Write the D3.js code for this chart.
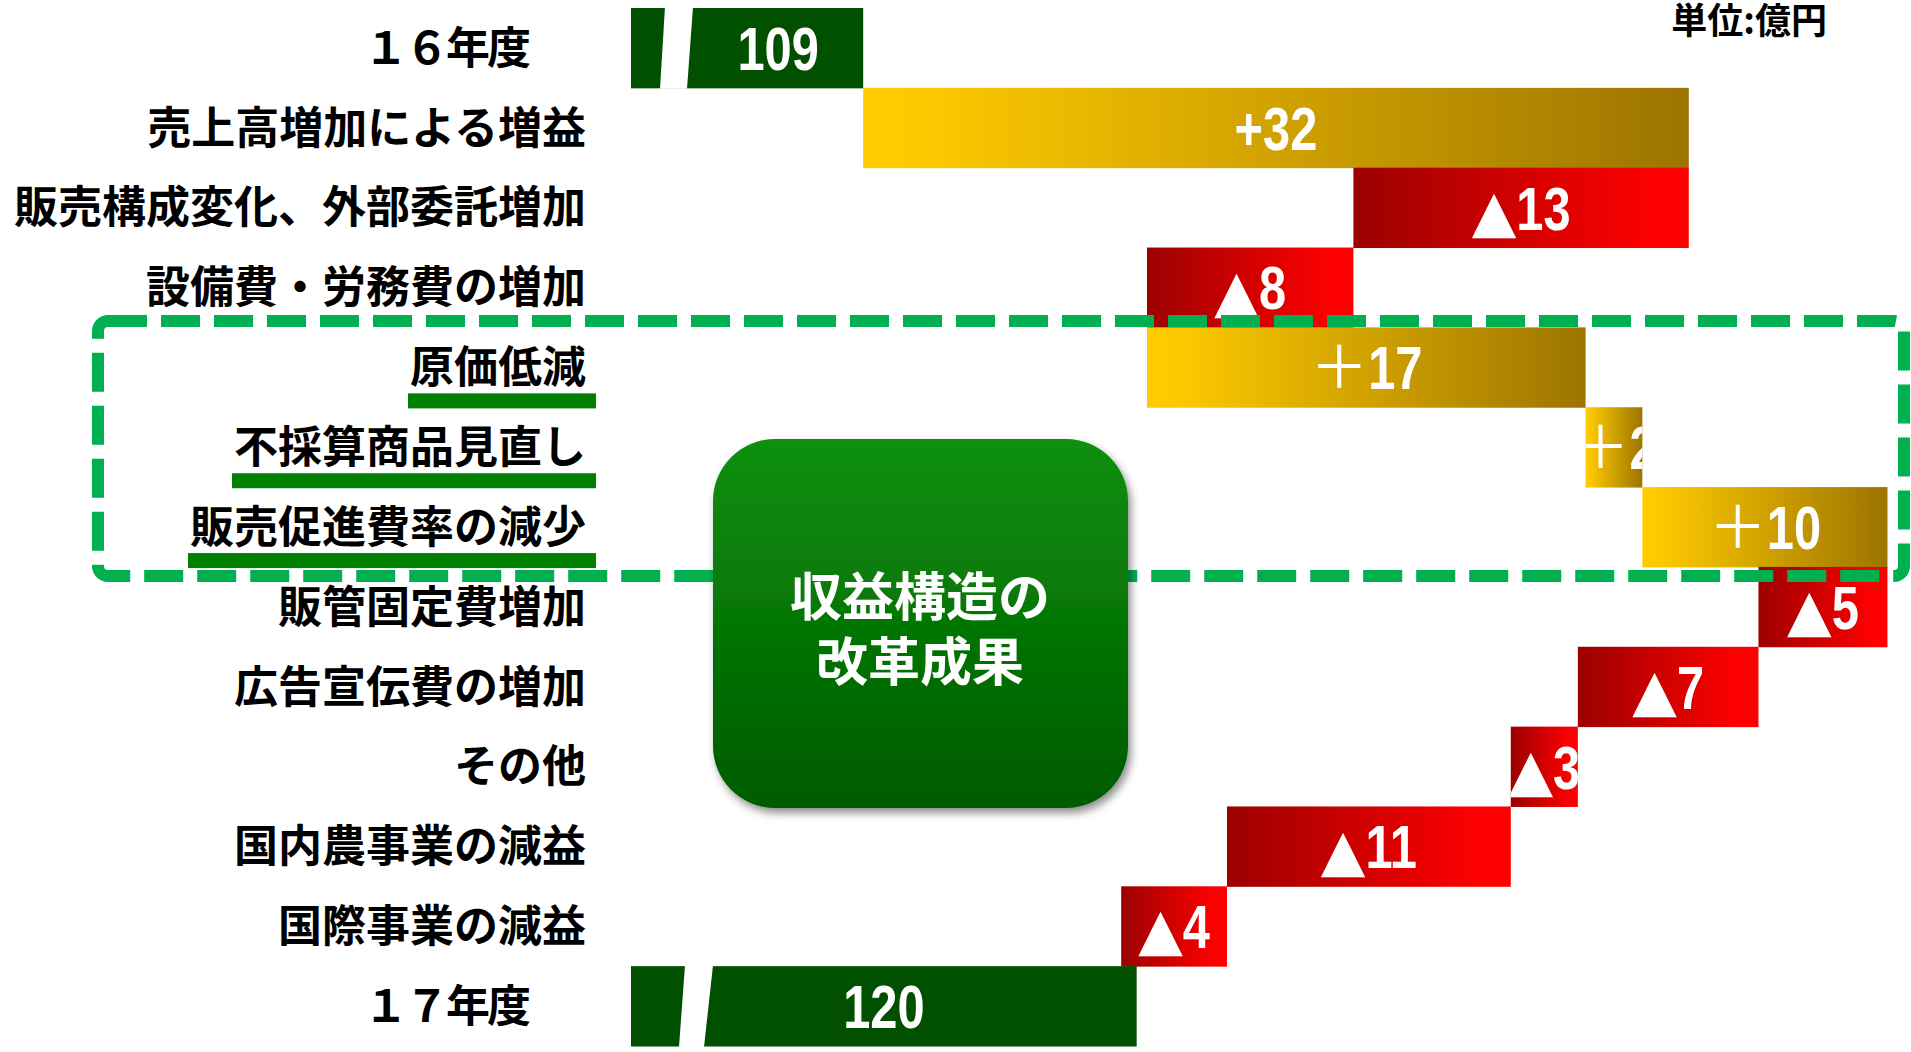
<!DOCTYPE html>
<html><head><meta charset="utf-8">
<script src="https://cdn.jsdelivr.net/npm/d3@7"></script>
<style>body{margin:0;background:#fff;} svg{display:block}</style>
</head><body><svg id="chart" width="1911" height="1052"></svg>
<script>
// ---- data ----
const categories = ["１６年度","売上高増加による増益","販売構成変化、外部委託増加","設備費・労務費の増加","原価低減","不採算商品見直し","販売促進費率の減少","販管固定費増加","広告宣伝費の増加","その他","国内農事業の減益","国際事業の減益","１７年度"];
const startTotal = 109;
const endTotal = 119.6;
const deltas = [32, -13, -8, 17, 2.2, 9.5, -5, -7, -2.6, -11, -4.1];
const valueLabels = ["109","+32","▲13","▲8","＋17","＋2","＋10","▲5","▲7","▲3","▲11","▲4","120"];
const highlighted = ["原価低減","不採算商品見直し","販売促進費率の減少"];
const boxTitle = ["収益構造の","改革成果"];
const unitLabel = "単位:億円";
const axisBase = 100;
const axisMax = 150;

// ---- build rows ----
const rows = [];
rows.push({cat: categories[0], type: "total", from: axisBase, to: startTotal, label: valueLabels[0]});
let cum = startTotal;
deltas.forEach((d, i) => {
  const from = cum, to = cum + d;
  rows.push({cat: categories[i + 1], type: d >= 0 ? "up" : "down", from: Math.min(from, to), to: Math.max(from, to), label: valueLabels[i + 1]});
  cum = to;
});
rows.push({cat: categories[categories.length - 1], type: "total", from: axisBase, to: endTotal, label: valueLabels[valueLabels.length - 1]});

const svg = d3.select("#chart");
const x = d3.scaleLinear().domain([axisBase, axisMax]).range([631, 1921]);
const y = d3.scaleBand().domain(categories).range([8, 1046]).padding(0);
const bw = y.bandwidth();

const defs = svg.append("defs");
const gUp = defs.append("linearGradient").attr("id", "gUp");
gUp.append("stop").attr("offset", 0).attr("stop-color", "#FFCC00");
gUp.append("stop").attr("offset", 0.08).attr("stop-color", "#FCC800");
gUp.append("stop").attr("offset", 1).attr("stop-color", "#9C7400");
const gDown = defs.append("linearGradient").attr("id", "gDown");
gDown.append("stop").attr("offset", 0).attr("stop-color", "#9C0000");
gDown.append("stop").attr("offset", 0.9).attr("stop-color", "#FF0000");
gDown.append("stop").attr("offset", 1).attr("stop-color", "#FF0000");
const gBox = defs.append("linearGradient").attr("id", "gBox").attr("x1", 0).attr("y1", 0).attr("x2", 0).attr("y2", 1);
gBox.append("stop").attr("offset", 0).attr("stop-color", "#0C900C");
gBox.append("stop").attr("offset", 1).attr("stop-color", "#005A00");
const sh = defs.append("filter").attr("id", "shadow").attr("x", "-10%").attr("y", "-10%").attr("width", "130%").attr("height", "130%");
sh.append("feDropShadow").attr("dx", 3).attr("dy", 5).attr("stdDeviation", 4).attr("flood-color", "#000").attr("flood-opacity", 0.45);

rows.forEach((r, i) => {
  defs.append("clipPath").attr("id", "clip" + i)
    .append("rect").attr("x", x(r.from)).attr("y", y(r.cat)).attr("width", x(r.to) - x(r.from)).attr("height", bw);
});

// ---- bars ----
const fill = t => t === "total" ? "#005000" : t === "up" ? "url(#gUp)" : "url(#gDown)";
svg.append("g").selectAll("rect").data(rows).join("rect")
  .attr("x", d => x(d.from)).attr("y", d => y(d.cat))
  .attr("width", d => x(d.to) - x(d.from)).attr("height", bw + 0.5)
  .attr("fill", d => fill(d.type));

// axis-break slashes on total bars
const breaks = [{row: 0, a: 29, b: 34, c: 56, d: 62}, {row: rows.length - 1, a: 48, b: 54, c: 73, d: 82}];
svg.append("g").selectAll("path").data(breaks).join("path")
  .attr("d", b => {
    const r = rows[b.row], x0 = x(r.from), t = y(r.cat) - 1, btm = y(r.cat) + bw + 1;
    return `M${x0 + b.b},${t}L${x0 + b.d},${t}L${x0 + b.c},${btm}L${x0 + b.a},${btm}Z`;
  }).attr("fill", "#fff");

// ---- value labels (prefix symbol + horizontally condensed number) ----
const SQ = 0.8;
const vl = svg.append("g");
rows.forEach((r, i) => {
  let cx = (x(r.from) + x(r.to)) / 2;
  if (i === 0) cx = (x(r.from) + 62 + x(r.to)) / 2;
  const cy = y(r.cat) + bw / 2;
  const g = vl.append("g").attr("clip-path", `url(#clip${i})`);
  const first = r.label[0];
  let prefix = null, num = r.label;
  if (first === "▲" || first === "＋") { prefix = first; num = r.label.slice(1); }
  let pW = 0, pt = null;
  if (prefix) {
    pt = g.append("text").attr("y", cy).attr("fill", "#fff").text(prefix);
    if (prefix === "▲") pt.attr("dy", "0.4em").style("font-family", "'DejaVu Sans'").style("font-size", "58px");
    else pt.attr("dy", "0.36em").style("font-family", "'Noto Sans CJK JP'").style("font-size", "58px");
    pW = pt.node().getComputedTextLength();
  }
  const nt = g.append("text").attr("fill", "#fff").attr("dy", "0.36em")
    .style("font-family", "'Liberation Sans Narrow', 'Liberation Sans', Arial, sans-serif")
    .style("font-weight", "bold").style("font-size", "61px").text(num);
  const nW = nt.node().getComputedTextLength() * SQ;
  const start = cx - (pW + nW) / 2;
  if (pt) pt.attr("x", start);
  nt.attr("transform", `translate(${start + pW},${cy}) scale(${SQ},1)`);
});

// ---- category labels ----
const cl = svg.append("g");
rows.forEach((r, i) => {
  const isTotal = r.type === "total";
  const t = cl.append("text")
    .attr("x", isTotal ? 528 : 586).attr("y", y(r.cat) + bw / 2).attr("dy", "0.36em")
    .attr("text-anchor", "end").attr("fill", "#000")
    .style("font-family", "'Noto Sans CJK JP', sans-serif").style("font-weight", "bold").style("font-size", "44px")
    .text(r.cat);
  if (isTotal) t.style("letter-spacing", "-3px");
  if (highlighted.includes(r.cat)) {
    const len = t.node().getComputedTextLength();
    cl.append("rect").attr("x", 586 - len - 2).attr("y", y(r.cat) + 66).attr("width", 596 - (586 - len - 2)).attr("height", 15).attr("fill", "#008000");
  }
});

// ---- dashed highlight frame ----
svg.append("rect").attr("x", 98).attr("y", 321).attr("width", 1904 - 98).attr("height", 576 - 321)
  .attr("rx", 10).attr("fill", "none").attr("stroke", "#00B050").attr("stroke-width", 12)
  .attr("stroke-dasharray", "39 14");

// ---- green callout box ----
svg.append("rect").attr("x", 713).attr("y", 439).attr("width", 1128 - 713).attr("height", 808 - 439)
  .attr("rx", 62).attr("fill", "url(#gBox)").attr("filter", "url(#shadow)");
svg.append("g").selectAll("text").data(boxTitle).join("text")
  .attr("x", 920).attr("y", (d, i) => 597 + i * 65).attr("dy", "0.36em")
  .attr("text-anchor", "middle").attr("fill", "#fff")
  .style("font-family", "'Noto Sans CJK JP', sans-serif").style("font-weight", "bold").style("font-size", "52px")
  .text(d => d);

// ---- unit ----
svg.append("text").attr("x", 1827).attr("y", 34).attr("text-anchor", "end").attr("fill", "#000")
  .style("font-family", "'Noto Sans CJK JP', sans-serif").style("font-weight", "bold").style("font-size", "36px")
  .text(unitLabel);
</script></body></html>
